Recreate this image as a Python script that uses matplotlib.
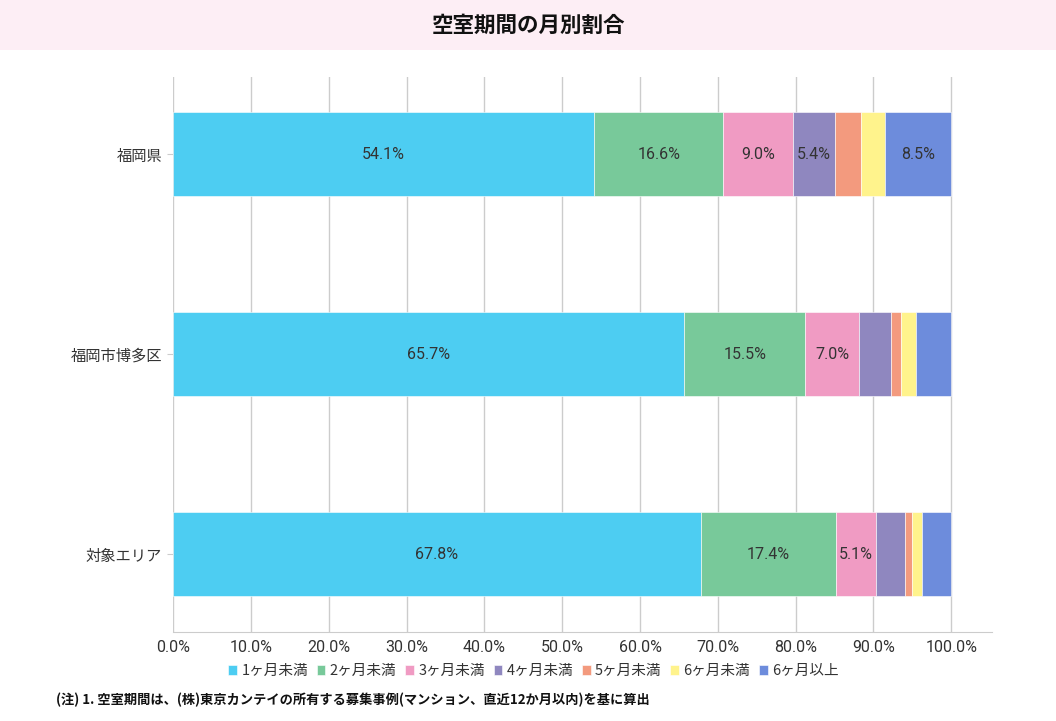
import numpy as np
import matplotlib
matplotlib.use('Agg')
import matplotlib.pyplot as plt
from matplotlib.patches import Rectangle
from matplotlib.ticker import FuncFormatter

plt.rcParams['font.family'] = ['Noto Sans CJK JP', 'DejaVu Sans']
num_font = ['Roboto', 'Noto Sans CJK JP']

areas = ['福岡県', '福岡市博多区', '対象エリア']
series = ['1ヶ月未満', '2ヶ月未満', '3ヶ月未満', '4ヶ月未満', '5ヶ月未満', '6ヶ月未満', '6ヶ月以上']
m1 = [54.1, 65.7, 67.8]
m2 = [16.6, 15.5, 17.4]
m3 = [9.0, 7.0, 5.1]
m4 = [5.4, 4.0, 3.7]
m5 = [3.3, 1.4, 1.0]
m6 = [3.1, 1.9, 1.3]
m7 = [8.5, 4.5, 3.7]
colors = ['#4dcdf2', '#78c99a', '#f09bc3', '#8f87bf', '#f39a7e', '#fff38c', '#6d8cdc']

data = np.array([m1, m2, m3, m4, m5, m6, m7])

fig = plt.figure(figsize=(10.56, 7.21), dpi=100)
# title band
fig.patches.append(Rectangle((0, 1 - 50 / 721), 1, 50 / 721, transform=fig.transFigure,
                             facecolor='#fdeef5', edgecolor='none', zorder=0))
fig.text(0.5, 1 - 25 / 721, '空室期間の月別割合', ha='center', va='center',
         fontsize=15.5, fontweight='bold', color='#111111')

ax = fig.add_axes([0.1641, 0.1239, 0.775, 0.7697])
y = np.arange(len(areas))
left = np.zeros(len(areas))
for i, name in enumerate(series):
    vals = data[i]
    ax.barh(y, vals, left=left, height=0.42, color=colors[i], label=name,
            edgecolor='white', linewidth=0.4, zorder=3)
    for j, v in enumerate(vals):
        if v >= 5:
            ax.text(left[j] + v / 2, y[j], '{:.1f}%'.format(v), ha='center', va='center',
                    fontsize=11.5, color='#333333', family=num_font, zorder=4)
    left += vals

ax.set_xlim(0, 105.2)
ax.set_ylim(2.3875, -0.3875)
ax.set_xticks(np.arange(0, 101, 10))
ax.xaxis.set_major_formatter(FuncFormatter(lambda v, p: '{:.1f}%'.format(v)))
ax.set_yticks(y)
ax.set_yticklabels(areas)
ax.grid(axis='x', color='#cccccc', linewidth=1, zorder=0)
ax.set_axisbelow(True)
for s in ['top', 'right', 'left']:
    ax.spines[s].set_visible(False)
ax.spines['bottom'].set_color('#cccccc')
ax.tick_params(axis='x', length=0, labelsize=11.5, labelcolor='#333333', pad=6)
for lab in ax.get_xticklabels():
    lab.set_family(num_font)
ax.tick_params(axis='y', length=4, color='#cccccc', labelsize=11, labelcolor='#333333', pad=4)

ax.legend(loc='upper center', bbox_to_anchor=(0.44, -0.035), ncol=7, frameon=False,
          fontsize=10.5, handlelength=0.6, handleheight=0.6, handletextpad=0.3,
          columnspacing=0.6, labelcolor='#333333')

fig.text(56 / 1056, 1 - 700 / 721,
         '(注) 1. 空室期間は、(株)東京カンテイの所有する募集事例(マンション、直近12か月以内)を基に算出',
         ha='left', va='center', fontsize=9.5, fontweight='bold', color='#111111')

fig.savefig('out.png', dpi=100, facecolor='white')
